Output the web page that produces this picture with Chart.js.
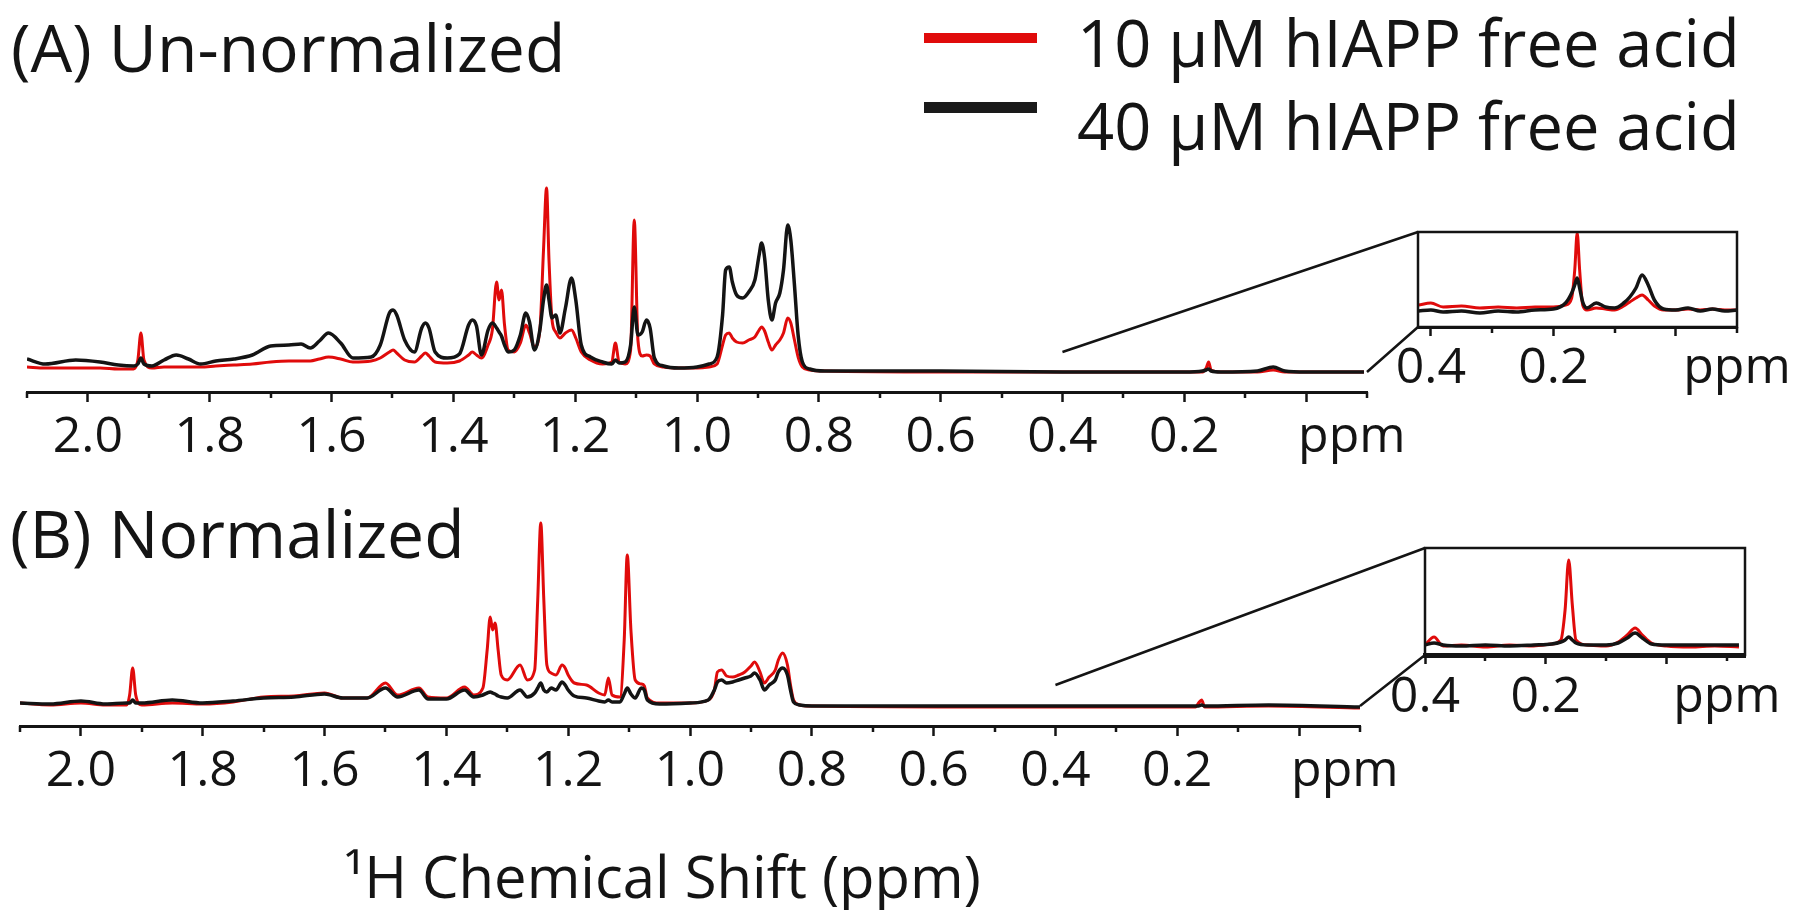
<!DOCTYPE html>
<html>
<head>
<meta charset="utf-8">
<script src="https://cdn.jsdelivr.net/npm/chart.js@4.4.0/dist/chart.umd.min.js"></script>
<style>
  body { margin: 0; background: #fff; }
  #wrap { position: relative; width: 1800px; height: 910px; overflow: hidden; font-family: 'Open Sans', sans-serif; }
  canvas { position: absolute; }
  #overlay { position: absolute; left: 0; top: 0; }
  #overlay text { font-family: 'Open Sans', sans-serif; fill: #141414; }
</style>
</head>
<body>
<div id="wrap">
  <canvas id="chartA" width="1800" height="330" style="left:0;top:150px"></canvas>
  <canvas id="chartB" width="1800" height="430" style="left:0;top:480px"></canvas>
  <canvas id="insetA" width="420" height="210" style="left:1380px;top:200px"></canvas>
  <canvas id="insetB" width="420" height="210" style="left:1380px;top:520px"></canvas>
  <svg id="overlay" width="1800" height="910">
    <text x="11" y="72" font-size="66">(A) Un-normalized</text>
    <text x="10" y="558" font-size="66">(B) Normalized</text>
    <rect x="924" y="33" width="113" height="10" fill="#e00b0b"/>
    <rect x="924" y="102" width="113" height="11" fill="#1a1a1a"/>
    <text x="1077" y="67" font-size="65">10 µM hIAPP free acid</text>
    <text x="1077" y="150" font-size="65">40 µM hIAPP free acid</text>
    <text x="344" y="898" font-size="58">¹H Chemical Shift (ppm)</text>
  </svg>
</div>

<script>
const RED = '#e00b0b';
const BLACK = '#141414';
const FONT = "'Open Sans', sans-serif";

// (A) un-normalized spectra: chemical shift (ppm) and intensity (a.u.)
const ppmA = [2.10, 2.07, 2.02, 1.98, 1.95, 1.925, 1.918, 1.913, 1.908, 1.895, 1.875, 1.855, 1.835, 1.815, 1.79,
  1.76, 1.73, 1.70, 1.67, 1.65, 1.635, 1.62, 1.605, 1.585, 1.565, 1.535, 1.52, 1.505, 1.499, 1.493, 1.48, 1.464,
  1.452, 1.446, 1.44, 1.43, 1.41, 1.39, 1.375, 1.369, 1.362, 1.354, 1.343, 1.336, 1.329, 1.325, 1.321, 1.316,
  1.31, 1.30, 1.29, 1.281, 1.275, 1.267, 1.258, 1.252, 1.247, 1.243, 1.238, 1.232, 1.225, 1.216, 1.206, 1.199,
  1.19, 1.175, 1.155, 1.14, 1.134, 1.128, 1.118, 1.109, 1.103, 1.097, 1.09, 1.083, 1.077, 1.07, 1.055, 1.03,
  1.00, 0.98, 0.967, 0.958, 0.953, 0.947, 0.942, 0.935, 0.925, 0.915, 0.905, 0.898, 0.894, 0.889, 0.883, 0.877,
  0.871, 0.864, 0.858, 0.851, 0.846, 0.84, 0.834, 0.827, 0.815, 0.79, 0.60, 0.40, 0.20, 0.17, 0.164, 0.16,
  0.156, 0.14, 0.08, 0.054, 0.035, 0.0, -0.095];
const redA = [12.5, 12, 12, 12, 11.5, 11.5, 16, 29.5, 16, 12, 12.5, 12.5, 12.5, 12.5, 13,
  13.5, 14, 15, 15.5, 15.5, 15.5, 16.5, 17.5, 16.5, 15, 15.5, 17, 20, 21, 19.5, 16, 15,
  18, 19.5, 18, 15, 14.5, 15.5, 18.5, 20, 18.5, 17, 23.5, 31, 55, 46, 51, 33.5,
  21, 20, 24.5, 33.5, 29.5, 22.5, 31, 71, 102, 66, 36, 30, 27, 29.5, 31, 27,
  20, 16, 14, 15, 24.5, 15, 14, 21, 86, 26, 18, 18.5, 18, 14, 12.5, 12,
  12, 12.5, 14, 23.5, 28.5, 29.5, 27, 25, 24.5, 26, 27.5, 31, 32.5, 30.5, 25, 21,
  23.5, 26, 29.5, 37, 34.5, 26, 17.5, 12.5, 11, 10.5, 10, 10, 10, 10, 12, 15,
  11, 10, 10, 11, 10, 10, 10];
const blackA = [16.5, 14, 16, 15, 13.5, 13, 14, 17, 14, 13, 16, 18.5, 16.5, 14, 15.5,
  16.5, 18.5, 23, 23.5, 24, 22, 25.5, 29.5, 24.5, 17, 17.5, 23.5, 39.5, 41, 38.5, 26, 20,
  32, 34.5, 32, 20, 17, 19, 33.5, 36, 33, 18.5, 31, 34.5, 32, 30, 28, 23.5,
  20, 21, 28.5, 39.5, 35, 21, 31, 46, 53.5, 46, 37, 38.5, 29.5, 42, 57, 46,
  23.5, 17.5, 15, 14, 16, 14.5, 15, 23.5, 42.5, 28.5, 30, 36, 32, 17, 13, 12,
  12.5, 14, 17.5, 38.5, 61, 62.5, 55, 48.5, 47, 50, 56, 68.5, 74.5, 67, 46, 36,
  44.5, 49.5, 61, 83.5, 76, 53.5, 28.5, 15, 11.5, 10.5, 10.5, 10, 10, 10.5, 11, 11.5,
  10.5, 10, 10.5, 12.5, 10.5, 10, 10];

// (A) inset, 0.42 to -0.1 ppm, vertically expanded
const ppmInsetA = [0.42, 0.40, 0.38, 0.35, 0.32, 0.29, 0.26, 0.23, 0.20, 0.18, 0.17, 0.165, 0.161, 0.157, 0.152,
  0.145, 0.13, 0.115, 0.10, 0.085, 0.075, 0.065, 0.055, 0.045, 0.035, 0.02, 0.0, -0.02, -0.04, -0.06, -0.08, -0.10];
const redInsetA = [22, 24, 20, 21, 19, 20, 19, 20, 20, 22, 29, 57, 94, 57, 22,
  17, 19, 18, 17, 21, 25, 29, 32, 27, 21, 17, 17, 18, 17, 18, 17, 17];
const blackInsetA = [16, 17, 15, 16, 14, 16, 15, 17, 18, 24, 34, 42, 49, 39, 25,
  19, 24, 20, 19, 24, 30, 39, 52, 42, 27, 18, 17, 19, 16, 18, 16, 17];

// (B) normalized spectra
const ppmB = [2.10, 2.05, 2.00, 1.96, 1.925, 1.92, 1.915, 1.91, 1.90, 1.85, 1.80, 1.75, 1.70, 1.65, 1.60,
  1.57, 1.53, 1.50, 1.48, 1.445, 1.43, 1.40, 1.37, 1.355, 1.34, 1.333, 1.328, 1.324, 1.32, 1.315, 1.31,
  1.30, 1.279, 1.267, 1.255, 1.25, 1.245, 1.24, 1.235, 1.228, 1.22, 1.21, 1.205, 1.20, 1.19, 1.17, 1.15,
  1.14, 1.134, 1.128, 1.115, 1.108, 1.103, 1.097, 1.09, 1.08, 1.075, 1.07, 1.05, 1.00, 0.97, 0.96, 0.955,
  0.948, 0.94, 0.93, 0.92, 0.91, 0.90, 0.894, 0.885, 0.878, 0.87, 0.86, 0.855, 0.848, 0.84, 0.835, 0.83,
  0.82, 0.80, 0.50, 0.17, 0.165, 0.16, 0.155, 0.05, -0.1];
const redB = [11.5, 10.5, 11.5, 10.5, 10.5, 15.5, 29, 15.5, 10.5, 11.5, 11, 12, 14.5, 15, 16.5,
  14, 14, 21.5, 15.5, 19, 14.5, 14, 19.5, 15.5, 19, 38, 54.5, 48, 51.5, 38, 25.5,
  23, 30.5, 23, 28, 63, 101.5, 63, 30.5, 26.5, 25.5, 30.5, 29, 25.5, 21.5, 20.5, 16.5,
  15.5, 24, 15.5, 14.5, 43, 85.5, 48, 23, 21, 20, 14, 11.5, 11.5, 13, 18, 27,
  28, 25, 24.5, 25.5, 27, 30, 32, 27, 21.5, 24.5, 28, 33, 36.5, 30.5, 20.5, 13,
  10.5, 10, 9.5, 9.5, 11.5, 13, 9.5, 10, 9];
const blackB = [11.5, 11, 12.5, 11, 11.5, 11.5, 13, 11.5, 11.5, 13, 11.5, 12.5, 14, 14.5, 16,
  14, 14, 19, 14.5, 18, 13.5, 13.5, 18, 14.5, 15.5, 16.5, 17, 16.5, 16, 15, 14.5,
  14, 18, 14.5, 16.5, 19, 21.5, 18, 17, 19, 18, 22, 20.5, 18, 15, 14, 12.5,
  12, 13, 12, 12, 16, 19, 16, 14, 19, 18, 13, 11, 11.5, 13, 18, 22,
  23, 21.5, 22, 23, 24, 25, 26.5, 23, 18, 20.5, 23, 27, 29, 25.5, 18, 12,
  10.5, 10, 10, 10, 10, 10.5, 10, 10.5, 9.5];

// (B) inset, 0.4 to -0.13 ppm
const ppmInsetB = [0.40, 0.385, 0.37, 0.34, 0.30, 0.26, 0.22, 0.19, 0.175, 0.168, 0.162, 0.156, 0.15, 0.13,
  0.10, 0.08, 0.065, 0.052, 0.04, 0.025, 0.0, -0.04, -0.08, -0.12];
const redInsetB = [10, 18, 9, 10, 8, 10, 9, 11, 15, 45, 95, 50, 15, 10,
  9, 13, 20, 27, 20, 12, 9, 8, 9, 8];
const blackInsetB = [10, 12, 10, 9, 10, 9, 10, 11, 13, 15, 18, 15, 12, 10,
  10, 12, 17, 22, 17, 11, 10, 10, 10, 10];

// tick labels
const mainTicks = [2.0, 1.8, 1.6, 1.4, 1.2, 1.0, 0.8, 0.6, 0.4, 0.2];
const mainTickLabels = ['2.0', '1.8', '1.6', '1.4', '1.2', '1.0', '0.8', '0.6', '0.4', '0.2'];
const insetTicks = [0.4, 0.2, -0.1];
const insetTickLabels = ['0.4', '0.2', 'ppm'];

// where the zoom lines leave the main spectrum [ppm, intensity]
const zoomFromA = [[0.4, 20], [-0.1, 10]];
const zoomFromB = [[0.4, 20.5], [-0.1, 10]];

const seriesNames = ['10 µM hIAPP free acid', '40 µM hIAPP free acid'];

function pts(xs, ys) {
  return xs.map((x, i) => ({ x: x, y: ys[i] }));
}

function near(a, b) { return Math.abs(a - b) < 1e-6; }
function isMajor(v) { return Math.abs(v * 5 - Math.round(v * 5)) < 1e-6; }

function labelFrom(values, labels) {
  return v => {
    const i = values.findIndex(t => near(t, v));
    return i >= 0 ? labels[i] : '';
  };
}

const minorTicks = {
  id: 'minorTicks',
  afterDraw(chart) {
    const s = chart.scales.x;
    const ctx = chart.ctx;
    ctx.save();
    ctx.strokeStyle = BLACK;
    ctx.lineWidth = 2.5;
    ctx.beginPath();
    for (let k = Math.ceil(s.min * 10 - 1e-6); k <= Math.floor(s.max * 10 + 1e-6); k++) {
      if (Math.abs(k) % 2 === 1) {
        const px = Math.round(s.getPixelForValue(k / 10));
        ctx.moveTo(px, s.top);
        ctx.lineTo(px, s.top + 6);
      }
    }
    ctx.stroke();
    ctx.restore();
  }
};

// "ppm" unit written at the right end of the main axes
const unitLabel = {
  id: 'unitLabel',
  afterDraw(chart) {
    const s = chart.scales.x;
    const ctx = chart.ctx;
    const o = s.options.ticks;
    ctx.save();
    ctx.fillStyle = BLACK;
    ctx.font = '50px ' + FONT;
    ctx.textAlign = 'center';
    ctx.textBaseline = 'middle';
    ctx.fillText('ppm', s.getPixelForValue(-0.075), s.top + 10 + o.padding + 30);
    ctx.restore();
  }
};

const frame = {
  id: 'frame',
  afterDraw(chart) {
    const a = chart.chartArea;
    const ctx = chart.ctx;
    ctx.save();
    ctx.strokeStyle = BLACK;
    ctx.lineWidth = 2.5;
    ctx.strokeRect(a.left, a.top, a.right - a.left, a.bottom - a.top);
    ctx.restore();
  }
};

function zoomLines(inset, from) {
  return {
    id: 'zoomLines',
    afterDraw(chart) {
      const { x, y } = chart.scales;
      const ctx = chart.ctx;
      const ia = inset.chartArea;
      const dx = inset.canvas.offsetLeft - chart.canvas.offsetLeft;
      const dy = inset.canvas.offsetTop - chart.canvas.offsetTop;
      ctx.save();
      ctx.strokeStyle = BLACK;
      ctx.lineWidth = 2.5;
      ctx.beginPath();
      ctx.moveTo(x.getPixelForValue(from[0][0]), y.getPixelForValue(from[0][1]));
      ctx.lineTo(dx + ia.left, dy + ia.top);
      ctx.moveTo(x.getPixelForValue(from[1][0]), y.getPixelForValue(from[1][1]));
      ctx.lineTo(dx + ia.left, dy + ia.bottom);
      ctx.stroke();
      ctx.restore();
    }
  };
}

function datasets(xs, red, black) {
  return [
    { label: seriesNames[0], data: pts(xs, red), borderColor: RED, borderWidth: 3, order: 1 },
    { label: seriesNames[1], data: pts(xs, black), borderColor: BLACK, borderWidth: 3.5, order: 0 }
  ];
}

function options(c) {
  return {
    responsive: false,
    animation: false,
    devicePixelRatio: 1,
    layout: { autoPadding: false, padding: c.padding },
    plugins: { legend: { display: false }, tooltip: { enabled: false } },
    elements: { point: { radius: 0 }, line: { cubicInterpolationMode: 'monotone' } },
    scales: {
      x: {
        type: 'linear',
        reverse: true,
        min: c.xMin,
        max: c.xMax,
        afterFit: s => { s.height = c.axisHeight; },
        border: { display: true, color: BLACK, width: c.borderWidth || 3 },
        grid: {
          drawOnChartArea: false,
          tickLength: c.tickLength,
          tickWidth: 2.5,
          tickColor: ctx => (ctx.tick && isMajor(ctx.tick.value)) ? BLACK : 'rgba(0,0,0,0)'
        },
        ticks: {
          stepSize: 0.1,
          includeBounds: false,
          autoSkip: false,
          maxRotation: 0,
          padding: c.tickPadding,
          color: BLACK,
          font: { family: FONT, size: 50 },
          callback: c.labels
        }
      },
      y: { display: false, min: 0, max: c.yMax }
    }
  };
}

function draw() {
  const insetA = new Chart(document.getElementById('insetA'), {
    type: 'line',
    data: { datasets: datasets(ppmInsetA, redInsetA, blackInsetA) },
    options: options({
      padding: { left: 38, right: 63, top: 32, bottom: 0 },
      xMin: -0.1, xMax: 0.421, yMax: 95, axisHeight: 83,
      tickLength: 9, tickPadding: 3,
      labels: labelFrom(insetTicks, insetTickLabels)
    }),
    plugins: [minorTicks, frame]
  });

  const insetB = new Chart(document.getElementById('insetB'), {
    type: 'line',
    data: { datasets: datasets(ppmInsetB, redInsetB, blackInsetB) },
    options: options({
      padding: { left: 45, right: 55, top: 28, bottom: 0 },
      xMin: -0.13, xMax: 0.4, yMax: 107, axisHeight: 75,
      tickLength: 9, tickPadding: 4, borderWidth: 5,
      labels: labelFrom(insetTicks, insetTickLabels)
    }),
    plugins: [minorTicks, frame]
  });

  new Chart(document.getElementById('chartA'), {
    type: 'line',
    data: { datasets: datasets(ppmA, redA, blackA) },
    options: options({
      padding: { left: 27, right: 433, top: 30, bottom: 0 },
      xMin: -0.1, xMax: 2.1, yMax: 106, axisHeight: 88,
      tickLength: 10, tickPadding: 6,
      labels: labelFrom(mainTicks, mainTickLabels)
    }),
    plugins: [minorTicks, unitLabel, zoomLines(insetA, zoomFromA)]
  });

  new Chart(document.getElementById('chartB'), {
    type: 'line',
    data: { datasets: datasets(ppmB, redB, blackB) },
    options: options({
      padding: { left: 20, right: 440, top: 34, bottom: 0 },
      xMin: -0.1, xMax: 2.1, yMax: 106, axisHeight: 184,
      tickLength: 10, tickPadding: 6,
      labels: labelFrom(mainTicks, mainTickLabels)
    }),
    plugins: [minorTicks, unitLabel, zoomLines(insetB, zoomFromB)]
  });
}

if (document.fonts && document.fonts.load) {
  Promise.all([document.fonts.load("50px 'Open Sans'"), document.fonts.load("58px 'Open Sans'")])
    .then(draw, draw);
} else {
  draw();
}
</script>
</body>
</html>
